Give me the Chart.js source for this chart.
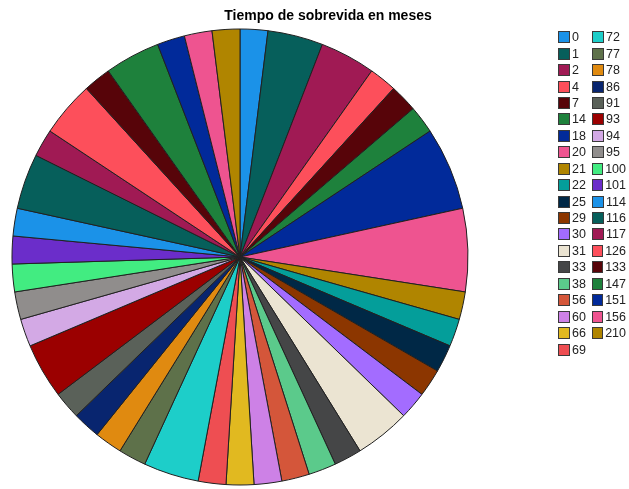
<!DOCTYPE html>
<html>
<head>
<meta charset="utf-8">
<script src="https://cdn.jsdelivr.net/npm/chart.js@4/dist/chart.umd.min.js"></script>
<style>
  html, body { margin: 0; padding: 0; background: #fff; }
  #wrap { position: relative; width: 629px; height: 489px; overflow: hidden; }
  #chart { position: absolute; left: 0; top: 0; }
  #title {
    position: absolute; left: 128px; width: 400px; top: 7px;
    text-align: center; font: bold 14px "Liberation Sans", Arial, sans-serif; color: #000;
  }
  #legend {
    position: absolute; left: 558px; top: 29px;
    display: grid; grid-auto-flow: column; grid-template-rows: repeat(20, 16.45px);
    grid-template-columns: 34px 34px;
    font: 12.5px "Liberation Sans", Arial, sans-serif; color: #222;
  }
  .item { display: flex; align-items: center; height: 16.45px; white-space: nowrap; }
  .box { width: 10px; height: 10px; border: 1px solid #3a3a3a; margin-right: 2px; }
</style>
</head>
<body>
<div id="wrap">
  <canvas id="chart" width="629" height="489"></canvas>
  <div id="title">Tiempo de sobrevida en meses</div>
  <div id="legend"></div>
</div>
<script>
"use strict";

// months of survival and how many cases had each
var months = ["0", "1", "2", "4", "7", "14", "18", "20", "21", "22", "25", "29", "30",
  "31", "33", "38", "56", "60", "66", "69", "72", "77", "78", "86", "91", "93", "94",
  "95", "100", "101", "114", "116", "117", "126", "133", "147", "151", "156", "210"];
var counts = [1, 2, 2, 1, 1, 1, 3, 3, 1, 1, 1, 1, 1,
  2, 1, 1, 1, 1, 1, 1, 2, 1, 1, 1, 1, 2, 1,
  1, 1, 1, 1, 2, 1, 2, 1, 2, 1, 1, 1];

// palette wraps around after 30 entries
var palette = ["#1b92e8", "#065f5b", "#a01a54", "#fd4f5b", "#570409", "#1e813c",
  "#012a9a", "#ee5490", "#b08500", "#049e9a", "#002846", "#8c3600", "#a36cff",
  "#ebe4d2", "#454647", "#5bca8b", "#d4563a", "#cd81e6", "#e1b920", "#ee4e52",
  "#1dcec9", "#5e714a", "#e08a10", "#08256f", "#5a6159", "#9b0000", "#d3a9e5",
  "#908d8c", "#42ec81", "#6b2dca"];

(function() {
  var colors = months.map(function(m, i) {
    return palette[i % palette.length];
  });
  var chart = renderPie(colors);
  renderLegend(chart);
})();

function renderPie(colors) {
  var ctx = document.getElementById("chart").getContext("2d");
  return new Chart(ctx, {
    type: "pie",
    data: {
      labels: months,
      datasets: [
        {
          data: counts,
          backgroundColor: colors,
          borderColor: "#202020",
          borderWidth: 1
        }
      ]
    },
    options: {
      responsive: false,
      animation: false,
      radius: 228,
      layout: { padding: { left: 0, right: 149, top: 25, bottom: 0 } },
      plugins: {
        legend: { display: false },
        title: { display: false },
        tooltip: { enabled: false }
      }
    }
  });
}

function renderLegend(chart) {
  var legend = document.getElementById("legend");
  var ds = chart.data.datasets[0];
  chart.data.labels.forEach(function(label, i) {
    var item = document.createElement("div");
    item.className = "item";
    var box = document.createElement("span");
    box.className = "box";
    box.style.background = ds.backgroundColor[i];
    item.appendChild(box);
    item.appendChild(document.createTextNode(label));
    legend.appendChild(item);
  });
}
</script>
</body>
</html>
